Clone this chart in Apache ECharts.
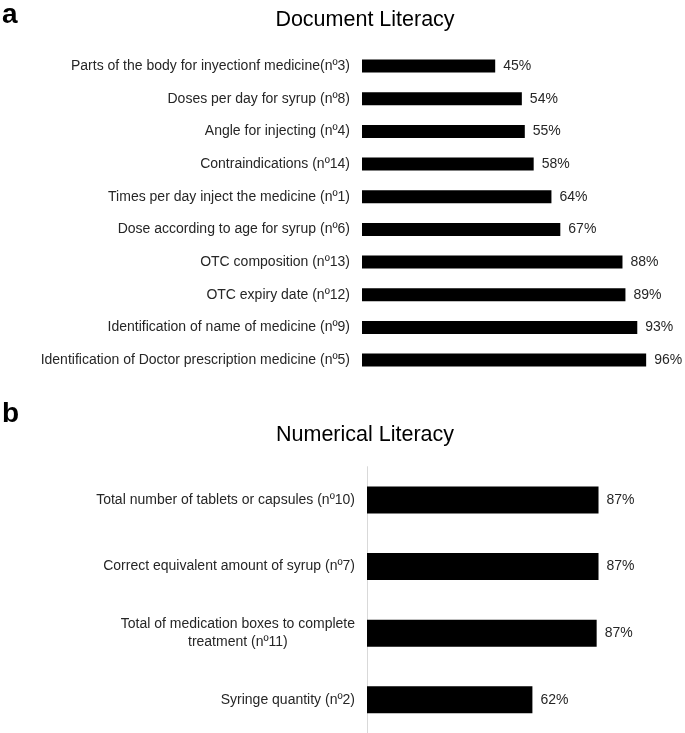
<!DOCTYPE html>
<html>
<head>
<meta charset="utf-8">
<script src="https://cdn.jsdelivr.net/npm/echarts@6/dist/echarts.min.js"></script>
<style>
  html, body { margin: 0; padding: 0; background: #fff; }
  #main { width: 685px; height: 733px; }
</style>
</head>
<body>
<div id="main"></div>
<script>
// datos (porcentaje de aciertos)
const docLabels = [
  'Parts of the body for inyectionf medicine(nº3)',
  'Doses per day for syrup (nº8)',
  'Angle for injecting (nº4)',
  'Contraindications (nº14)',
  'Times per day inject the medicine (nº1)',
  'Dose according to age for syrup (nº6)',
  'OTC composition (nº13)',
  'OTC expiry date (nº12)',
  'Identification of name of medicine (nº9)',
  'Identification of Doctor prescription medicine (nº5)'
]
const docValues = [45, 54, 55, 58, 64, 67, 88, 89, 93, 96]

const numLabels = [
  'Total number of tablets or capsules (nº10)',
  'Correct equivalent amount of syrup (nº7)',
  'Total of medication boxes to complete\ntreatment (nº11)',
  'Syringe quantity (nº2)'
]
const numValues = [87.2, 87.2, 86.5, 62.3]

const FONT = "'Liberation Sans', Arial, sans-serif"

const myChart = echarts.init(document.getElementById('main'))

// etiquetas de categoría centradas línea a línea
const catFormatter = (v) => v.split('\n').map(s => '{c|' + s + '}').join('\n')

const pctLabel = {
  show: true,
  position: 'right',
  distance: 8,
  color: '#262626',
  fontSize: 14,
  fontFamily: FONT,
  formatter: (p) => Math.round(p.value) + '%'
}

let option = {
  animation: false,
  graphic: [
    { type: 'text', x: 2, y: 15, style: { text: 'a', font: 'bold 28px ' + FONT, fill: '#000', textAlign: 'left', textVerticalAlign: 'middle' } },
    { type: 'text', x: 2, y: 414, style: { text: 'b', font: 'bold 28px ' + FONT, fill: '#000', textAlign: 'left', textVerticalAlign: 'middle' } },
    { type: 'text', x: 365, y: 20, style: { text: 'Document Literacy', font: '21.5px ' + FONT, fill: '#000', textAlign: 'center', textVerticalAlign: 'middle' } },
    { type: 'text', x: 365, y: 435, style: { text: 'Numerical Literacy', font: '21.5px ' + FONT, fill: '#000', textAlign: 'center', textVerticalAlign: 'middle' } }
  ],
  grid: [
    { left: 362, top: 49.7, width: 296, height: 326.7 },
    { left: 367, top: 466.7, width: 265.5, height: 266.7 }
  ],
  xAxis: [
    { gridIndex: 0, type: 'value', min: 0, max: 100, show: false },
    { gridIndex: 1, type: 'value', min: 0, max: 100, show: false }
  ],
  yAxis: [
    {
      gridIndex: 0,
      type: 'category',
      inverse: true,
      data: docLabels,
      axisLine: { show: false },
      axisTick: { show: false },
      axisLabel: { margin: 12, color: '#262626', fontSize: 14, fontFamily: FONT }
    },
    {
      gridIndex: 1,
      type: 'category',
      inverse: true,
      data: numLabels,
      axisLine: { show: true, lineStyle: { color: '#d9d9d9', width: 1 } },
      axisTick: { show: false },
      axisLabel: {
        margin: 12,
        color: '#262626',
        fontSize: 14,
        fontFamily: FONT,
        formatter: catFormatter,
        rich: { c: { align: 'center', fontSize: 14, fontFamily: FONT, color: '#262626', lineHeight: 18 } }
      }
    }
  ],
  series: [
    {
      type: 'bar',
      xAxisIndex: 0,
      yAxisIndex: 0,
      data: docValues,
      barWidth: 13,
      itemStyle: { color: '#000' },
      label: pctLabel
    },
    {
      type: 'bar',
      xAxisIndex: 1,
      yAxisIndex: 1,
      data: numValues,
      barWidth: 27,
      itemStyle: { color: '#000' },
      label: pctLabel
    }
  ]
}

option && myChart.setOption(option)
</script>
</body>
</html>
